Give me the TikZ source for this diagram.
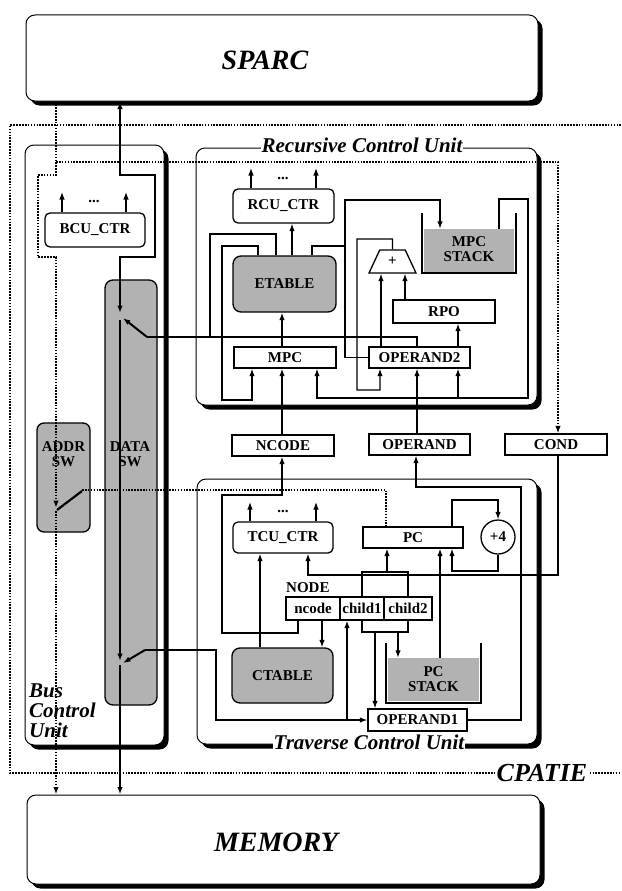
\documentclass[tikz,border=0pt]{standalone}
\usepackage{fontspec}
\setmainfont{Liberation Serif}
\usetikzlibrary{arrows.meta,shadows,shapes.geometric}
\newcommand\boxfont{\bfseries\fontsize{15}{15}\selectfont}
\newcommand\unitfont{\bfseries\itshape\fontsize{21}{20}\selectfont}
\newcommand\bigfont{\bfseries\itshape\fontsize{28}{28}\selectfont}
\begin{document}
\begin{tikzpicture}[x=1pt,y=-1pt,
  ln/.style={line width=1.2pt},
  bus/.style={line width=2pt},
  dot/.style={line width=1.6pt, dash pattern=on 1.6pt off 1.3pt},
  arr/.style={-{Latex[length=7.5pt,width=5.5pt]}},
  barr/.style={{Latex[length=7.5pt,width=5.5pt]}-{Latex[length=7.5pt,width=5.5pt]}},
  panel/.style={draw, line width=1pt, rounded corners=9pt, fill=white, inner sep=0pt,
     drop shadow={shadow xshift=4.5pt, shadow yshift=-4.5pt, fill=black, opacity=1}},
  rbox/.style={draw, line width=1.3pt, rounded corners=5pt, fill=white, inner sep=0pt, font=\boxfont},
  sbox/.style={draw, line width=1.3pt, fill=white, inner sep=0pt, font=\boxfont},
  shbox/.style={draw, line width=1.3pt, rounded corners=8pt, fill=black!30, inner sep=0pt, font=\boxfont},
  txt/.style={inner sep=0pt, font=\boxfont, align=center},
  ulabel/.style={fill=white, inner sep=1pt, font=\unitfont},
]
\fill[white] (0,0) rectangle (621,891);
\useasboundingbox (0,0) rectangle (621,891);

% outer panels
\node[panel, minimum width=512pt, minimum height=86pt] (sparc) at (282,58) {};
\node[font=\bigfont] (sparct) at (265,60) {SPARC};
\node[panel, minimum width=513pt, minimum height=89pt] (memory) at (283.5,839.5) {};
\node[font=\bigfont] (memoryt) at (276,842) {MEMORY};

\draw[dot] (621,125) -- (10,125) -- (10,773) -- (621,773);
\node[ulabel, font=\bfseries\itshape\fontsize{26}{26}\selectfont] (cpatie) at (542,773) {CPATIE};

\node[panel, minimum width=139pt, minimum height=600pt] (bcu) at (94.5,445) {};
\node[panel, minimum width=341pt, minimum height=257pt] (rcu) at (366.5,276.5) {};
\node[panel, minimum width=340pt, minimum height=265pt] (tcu) at (367,611.5) {};
\node[ulabel] (rcul) at (362,145) {Recursive Control Unit};
\node[ulabel] (tcul) at (369,742) {Traverse Control Unit};
\node[font=\unitfont, align=left, anchor=west, inner sep=0pt] (bcul) at (29,711) {Bus\\Control\\Unit};

% bus control unit
\node[rbox, minimum width=100pt, minimum height=34pt] (bcuctr) at (95,230) {BCU\_CTR};
\node[txt] (bdots) at (94,201) {...};
\node[shbox, rounded corners=7pt, minimum width=53pt, minimum height=109pt] (addrsw) at (63.5,477.5) {};
\node[txt] (addrt) at (63.5,454) {ADDR\\SW};
\node[shbox, minimum width=52pt, minimum height=425pt] (datasw) at (131,492.5) {};
\node[txt] (datat) at (130,454) {DATA\\SW};

% recursive control unit
\node[rbox, minimum width=101pt, minimum height=34pt] (rcuctr) at (283.5,206) {RCU\_CTR};
\node[txt] (rdots) at (283,178) {...};
\node[shbox, minimum width=103pt, minimum height=56pt] (etable) at (284.5,284) {ETABLE};
\node[sbox, minimum width=102pt, minimum height=21pt] (mpc) at (285,357.5) {MPC};
\node[sbox, minimum width=101pt, minimum height=21pt] (op2) at (419.5,357.5) {OPERAND2};
\node[sbox, minimum width=102pt, minimum height=23pt] (rpo) at (444,311.5) {RPO};
\node[trapezium, draw, line width=1.3pt, fill=white, trapezium stretches=true,
  trapezium left angle=67, trapezium right angle=67, minimum width=47pt,
  minimum height=23pt, inner sep=0pt, font=\boxfont] (adder) at (392.5,261.5) {+};
\node[fill=black!30, minimum width=90pt, minimum height=43pt, inner sep=0pt] (mpcstack) at (469,250.5) {};
\node[txt] (mpcst) at (469,249) {MPC\\STACK};
\draw[ln] (422,213) -- (422,273) -- (516,273) -- (516,213);

% registers between units
\node[sbox, minimum width=102pt, minimum height=21pt] (ncode) at (283,445.5) {NCODE};
\node[sbox, minimum width=101pt, minimum height=21pt] (operand) at (419.5,444.5) {OPERAND};
\node[sbox, minimum width=102pt, minimum height=21pt] (cond) at (556,444.5) {COND};

% traverse control unit
\node[rbox, minimum width=100pt, minimum height=31pt] (tcuctr) at (283,537.5) {TCU\_CTR};
\node[txt] (tdots) at (283,511) {...};
\node[sbox, minimum width=100pt, minimum height=21pt] (pc) at (413,537.5) {PC};
\node[circle, draw, line width=1.3pt, minimum size=34pt, inner sep=0pt, font=\boxfont] (plus4) at (498,537) {+4};
\node[txt, anchor=west] (nodel) at (286,588) {NODE};
\node[sbox, minimum width=54pt, minimum height=23pt] (ncodef) at (313,608.5) {ncode};
\node[sbox, minimum width=44pt, minimum height=23pt] (child1) at (362,608.5) {child1};
\node[sbox, minimum width=48pt, minimum height=23pt] (child2) at (408,608.5) {child2};
\node[shbox, minimum width=101pt, minimum height=55pt] (ctable) at (282.5,675.5) {CTABLE};
\node[fill=black!30, minimum width=91pt, minimum height=43pt, inner sep=0pt] (pcstack) at (433.5,679.5) {};
\node[txt] (pcst) at (433.5,679) {PC\\STACK};
\draw[ln] (386,643) -- (386,703) -- (481,703) -- (481,643);
\node[sbox, minimum width=99pt, minimum height=22pt] (op1) at (417.5,720) {OPERAND1};

% ---- connectors: bus control unit
\draw[bus, barr] (sparc.south -| 120,0) -- (120,175) -- (155,175) -- (155,257) -- (120,257) -- (120,313);
\draw[dot, arr] (sparc.south -| 56,0) -- (56,175) -- (38,175) -- (38,257) -- (56,257) -- (56,508);
\draw[dot, arr] (56,162) -- (558,162) -- (cond.north -| 558,0);
\draw[dot, arr] (56,511) -- (memory.north -| 56,0);
\draw[line width=2.2pt] (57,510) -- (82,491);
\draw[dot] (82,490) -- (386,490) -- (pc.north -| 386,0);
\draw[bus, arr] (147,337) -- (123,318);
\draw[bus] (147,337) -- (417,337) -- (op2.north -| 417,0);
\draw[bus, arr] (120,320) -- (120,661);
\draw[bus, arr] (145,650) -- (123,663);
\draw[bus, arr] (120,665) -- (memory.north -| 120,0);
\draw[ln] (145,650) -- (216,650) -- (216,720) -- (347,720);
\draw[ln, arr] (347,720) -- (op1.west);
\draw[ln, arr] (347,720) -- (child1.south -| 347,0);

% ---- connectors: bus control counters
\draw[ln, arr] (bcuctr.north -| 62,0) -- (62,192);
\draw[ln, arr] (bcuctr.north -| 126,0) -- (126,192);

% ---- connectors: recursive control unit
\draw[ln, arr] (rcuctr.north -| 251,0) -- (251,168);
\draw[ln, arr] (rcuctr.north -| 316,0) -- (316,168);
\draw[ln, arr] (etable.north -| 292,0) -- (rcuctr.south -| 292,0);
\draw[ln, arr] (mpc.north -| 282,0) -- (etable.south -| 282,0);
\draw[bus] (etable.north -| 276,0) -- (276,234) -- (210,234) -- (210,337);
\draw[ln, arr] (etable.north -| 258,0) -- (258,246) -- (222,246) -- (222,400) -- (252,400) -- (mpc.south -| 252,0);
\draw[ln] (etable.north -| 312,0) -- (312,246) -- (345,246);
\draw[ln, arr] (op2.west) -- (345,357.5) -- (345,200) -- (440,200) -- (mpcstack.north -| 440,0);
\draw[ln, arr] (mpcstack.north -| 499,0) -- (499,199) -- (528,199) -- (528,398) -- (317,398) -- (mpc.south -| 317,0);
\draw[ln, arr] (458,398) -- (op2.south -| 458,0);
\draw[ln, arr] (adder.north) -- (392.5,239) -- (357,239) -- (357,390) -- (380,390) -- (op2.south -| 380,0);
\draw[ln, arr] (op2.north -| 381,0) -- (adder.south -| 381,0);
\draw[ln, arr] (rpo.north -| 405,0) -- (adder.south -| 405,0);
\draw[ln, arr] (op2.north -| 458,0) -- (rpo.south -| 458,0);
\draw[ln, arr] (ncode.north -| 282,0) -- (mpc.south -| 282,0);
\draw[ln, arr] (operand.north -| 417,0) -- (op2.south -| 417,0);

% ---- connectors: traverse control unit
\draw[ln, arr] (tcuctr.north -| 250,0) -- (250,502);
\draw[ln, arr] (tcuctr.north -| 316,0) -- (316,502);
\draw[ln, arr] (pc.north -| 452,0) -- (452,500) -- (498,500) -- (plus4.north);
\draw[ln, arr] (plus4.south) -- (498,571) -- (452,571) -- (pc.south -| 452,0);
\draw[ln] (child1.north) -- (362,572) -- (408,572) -- (child2.north);
\draw[ln, arr] (387,572) -- (pc.south -| 387,0);
\draw[ln] (child1.south) -- (362,632) -- (408,632) -- (child2.south);
\draw[ln, arr] (375,632) -- (op1.north -| 375,0);
\draw[ln, arr] (398,632) -- (pcstack.north -| 398,0);
\draw[ln, arr] (ncodef.south -| 298,0) -- (298,633) -- (222,633) -- (222,495) -- (282,495) -- (ncode.south -| 282,0);
\draw[ln, arr] (ncodef.south -| 322,0) -- (ctable.north -| 322,0);
\draw[ln, arr] (ctable.north -| 260,0) -- (tcuctr.south -| 260,0);
\draw[ln, arr] (cond.south -| 558,0) -- (558,575) -- (308,575) -- (tcuctr.south -| 308,0);
\draw[ln, arr] (pcstack.north -| 440,0) -- (pc.south -| 440,0);
\draw[ln, arr] (op1.east) -- (521,720) -- (521,487) -- (416,487) -- (operand.south -| 416,0);
\end{tikzpicture}
\end{document}
